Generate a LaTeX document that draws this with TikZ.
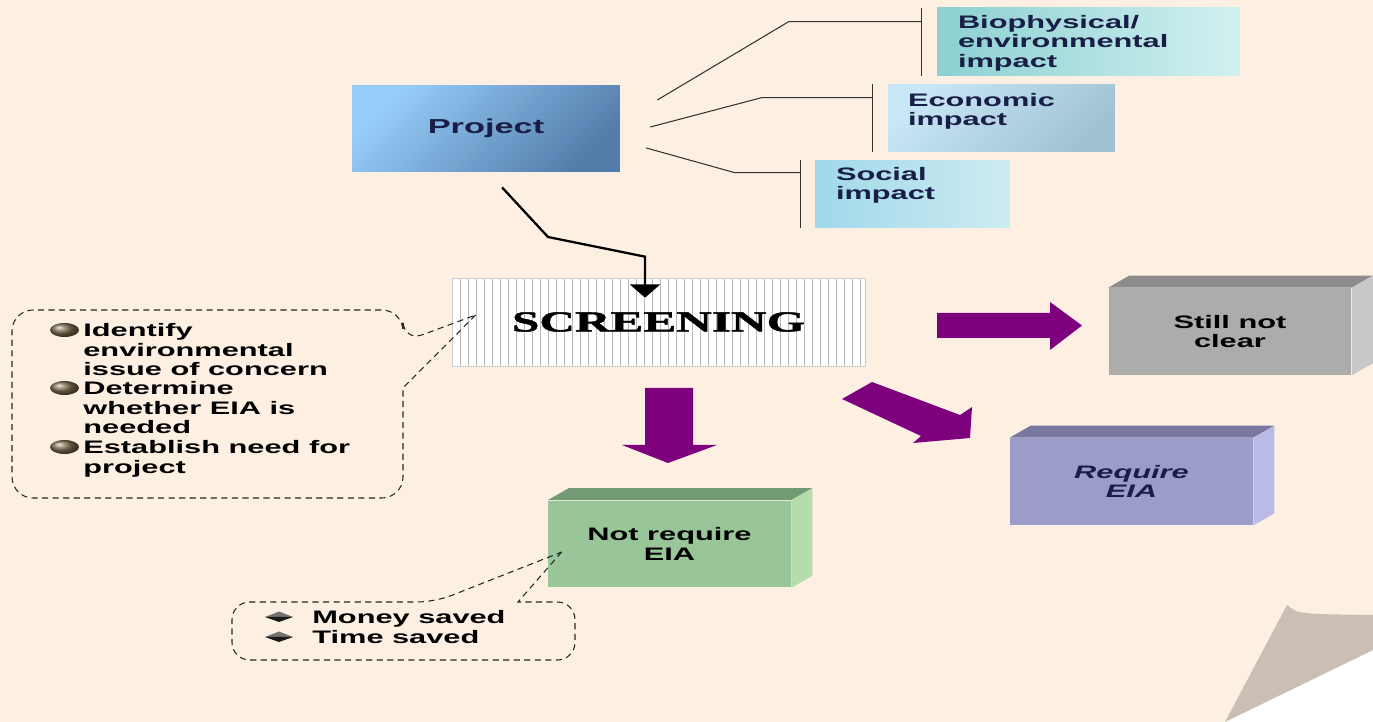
\documentclass[tikz,border=0pt]{standalone}
\usepackage{fontspec}
\setmainfont[FakeStretch=1.7]{Liberation Sans}
\newfontfamily\screenfont[FakeStretch=1.7,FakeBold=1.6]{Liberation Serif}
\usetikzlibrary{arrows.meta,positioning,calc}
\definecolor{paper}{RGB}{253,240,227}
\definecolor{curl}{RGB}{202,191,181}
\definecolor{projlight}{RGB}{150,205,248}
\definecolor{projdark}{RGB}{85,125,172}
\definecolor{biolight}{RGB}{140,208,210}
\definecolor{biopale}{RGB}{210,240,240}
\definecolor{econlight}{RGB}{200,230,246}
\definecolor{econdark}{RGB}{160,195,212}
\definecolor{soclight}{RGB}{160,216,234}
\definecolor{socpale}{RGB}{205,236,242}
\definecolor{navy}{RGB}{25,30,70}
\definecolor{eiapurple}{RGB}{125,0,125}
\definecolor{stillfront}{RGB}{172,172,172}
\definecolor{stilltop}{RGB}{140,140,140}
\definecolor{stillside}{RGB}{200,200,200}
\definecolor{reqfront}{RGB}{156,156,200}
\definecolor{reqtop}{RGB}{120,120,160}
\definecolor{reqside}{RGB}{186,186,228}
\definecolor{nreqfront}{RGB}{152,198,152}
\definecolor{nreqtop}{RGB}{115,155,115}
\definecolor{nreqside}{RGB}{182,220,172}
\definecolor{bulletbrown}{RGB}{125,110,80}

\begin{document}
\begin{tikzpicture}[
    x=0.02cm, y=-0.02cm,
    txt/.style={font=\fontsize{10.3pt}{11pt}\selectfont\bfseries},
    projbox/.style={minimum width=5.36cm,minimum height=1.74cm,inner sep=0pt,
      left color=projlight,right color=projdark,shading angle=45,text=navy,
      font=\fontsize{11.5pt}{12pt}\selectfont\bfseries},
    impbox/.style={minimum height=1.36cm,inner sep=0pt},
    imptext/.style={txt,align=left,inner sep=0pt,text=navy},
    brk/.style={draw=black!80,line width=0.6pt},
    flow/.style={draw=black,line width=1.3pt,-{Triangle[width=17pt,length=7.5pt]}},
    scrbox/.style={minimum width=8.26cm,minimum height=1.76cm,inner sep=0pt,
      fill=white,draw=black!20,line width=0.4pt,
      font=\screenfont\fontsize{16.5pt}{18pt}\selectfont\bfseries,
      path picture={\foreach \i in {1,...,51}{
        \draw[black!28,line width=0.5pt] ([xshift=\i*0.16cm]path picture bounding box.south west)
          -- ([xshift=\i*0.16cm]path picture bounding box.north west);}}},
    blockarr/.style={fill=eiapurple},
    cube/.style={txt,align=center,minimum width=4.86cm,minimum height=1.74cm,inner sep=0pt},
    item/.style={txt,align=left,inner sep=0pt,anchor=north west},
    bubble/.style={draw=black!85,line width=0.6pt,dash pattern=on 3.5pt off 2.5pt}
]
\fill[paper] (0,0) rectangle (1373,722);
\useasboundingbox (0,0) rectangle (1373,722);

% page curl
\fill[white] (1225,722) -- (1373,650) -- (1373,722) -- cycle;
\fill[curl] (1225,722) -- (1287,605) .. controls (1298,614) .. (1373,615) -- (1373,650) -- cycle;

% project and impacts
\node[projbox] (proj) at (486,128.5) {\raisebox{2.5pt}{Project}};
\node[impbox,left color=biolight,right color=biopale,minimum width=6.06cm] (bio) at (1088.5,42) {};
\node[impbox,left color=econlight,right color=econdark,shading angle=45,minimum width=4.54cm] (econ) at (1001.5,118) {};
\node[impbox,left color=soclight,right color=socpale,minimum width=3.9cm] (soc) at (912.5,194) {};
\node[imptext,below right=0.15cm and 0.42cm of bio.north west] (biotxt) {Biophysical/\\environmental\\impact};
\node[imptext,below right=0.18cm and 0.4cm of econ.north west] (econtxt) {Economic\\impact};
\node[imptext,below right=0.15cm and 0.42cm of soc.north west] (soctxt) {Social\\impact};

\coordinate (bioK) at ([shift={(-0.3cm,-0.28cm)}]bio.north west);
\coordinate (econK) at ([shift={(-0.3cm,-0.28cm)}]econ.north west);
\coordinate (socK) at ([shift={(-0.28cm,-0.26cm)}]soc.north west);
\draw[brk] ([xshift=-0.3cm]bio.north west) -- ([xshift=-0.3cm]bio.south west);
\draw[brk] ([xshift=-0.3cm]econ.north west) -- ([xshift=-0.3cm]econ.south west);
\draw[brk] ([xshift=-0.28cm]soc.north west) -- ([xshift=-0.28cm]soc.south west);
\draw[brk] ([shift={(0.74cm,0.57cm)}]proj.east) -- ([xshift=-2.66cm]bioK) -- (bioK);
\draw[brk] ([shift={(0.6cm,0.03cm)}]proj.east) -- ([xshift=-2.22cm]econK) -- (econK);
\draw[brk] ([shift={(0.52cm,-0.39cm)}]proj.east) -- ([xshift=-1.32cm]socK) -- (socK);

% screening
\node[scrbox] (scr) at (658.5,322) {SCREENING};
\draw[flow] ([shift={(0.32cm,-0.3cm)}]proj.south) -- (548,237)
  -- ([shift={(-0.27cm,0.42cm)}]scr.north) -- ([shift={(-0.27cm,-0.4cm)}]scr.north);

% outcomes
\node[cube,fill=stillfront] (still) at (1230,331.5) {Still not\\clear};
\node[cube,fill=reqfront,text=navy,font=\fontsize{10.3pt}{11pt}\selectfont\bfseries\itshape] (req) at (1131.5,481.5) {Require\\EIA};
\node[cube,fill=nreqfront] (nreq) at (669.5,544) {Not require\\EIA};
\foreach \n in {still,req,nreq}{
  \fill[\n top] (\n.north west) -- ++(0.42cm,0.24cm) -- ([shift={(0.42cm,0.24cm)}]\n.north east) -- (\n.north east) -- cycle;
  \fill[\n side] (\n.north east) -- ++(0.42cm,0.24cm) -- ([shift={(0.42cm,0.24cm)}]\n.south east) -- (\n.south east) -- cycle;
}

\fill[blockarr] (937,313) -- (1050,313) -- (1050,302) -- (1082,325.5) -- (1050,350) -- (1050,338) -- (937,338) -- cycle;
\fill[blockarr] (645,388) -- (693,388) -- (693,445) -- (717,445) -- (668,463) -- (622,445) -- (645,445) -- cycle;
\fill[blockarr] (842,399) -- (872,382) -- (960,415) -- (972,407) -- (970,438) -- (913,443) -- (921,436) -- cycle;

% screening callout
\node[item] (it1) at (83,323.5) {Identify\\environmental\\issue of concern};
\node[item] (it2) at (83,381.5) {Determine\\whether EIA is\\needed};
\node[item] (it3) at (83,440.5) {Establish need for\\project};
\foreach \n in {it1,it2,it3}
  \shade[ball color=bulletbrown] ([shift={(-0.37cm,-0.13cm)}]\n.north west) ellipse [x radius=0.29cm,y radius=0.14cm];
\coordinate (scrtip) at ([shift={(0.48cm,0.14cm)}]scr.west);
\draw[bubble] (scrtip) -- (403,388) [rounded corners=12pt] -- (403,498) -- (12,498) -- (12,310)
  -- (403,310) -- (403,342) [sharp corners] -- cycle;

% savings callout
\node[item] (sav) at (312,610.5) {Money saved\\Time saved};
\foreach \dy in {0cm,-0.4cm}{
  \fill[black!55] ([shift={(-0.94cm,-0.13cm+\dy)}]sav.north west) -- ++(0.28cm,0.11cm) -- ++(0.28cm,-0.11cm) -- cycle;
  \fill[black!90] ([shift={(-0.94cm,-0.13cm+\dy)}]sav.north west) -- ++(0.28cm,-0.1cm) -- ++(0.28cm,0.1cm) -- cycle;
}
\coordinate (nreqtip) at ([shift={(0.28cm,-0.16cm)}]nreq.west);
\draw[bubble] (nreqtip) -- (518,602) [rounded corners=10pt] -- (575,602) -- (575,660) -- (232,660)
  -- (232,602) -- (435,602) [sharp corners] -- cycle;
\end{tikzpicture}
\end{document}
